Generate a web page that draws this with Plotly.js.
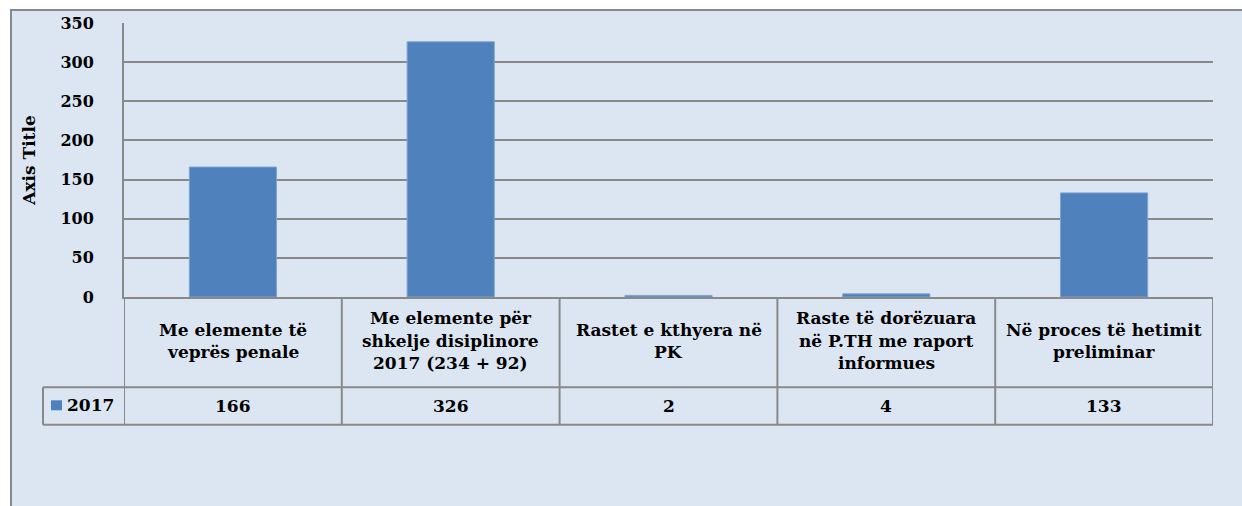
<!DOCTYPE html>
<html>
<head>
<meta charset="utf-8">
<script src="https://cdn.plot.ly/plotly-3.0.1.min.js"></script>
<style>html,body{margin:0;padding:0;background:#fff;}#chart{width:1242px;height:506px;}</style>
</head>
<body>
<div id="chart"></div>
<script>
const categories = [
  "Me elemente të<br>veprës penale",
  "Me elemente për<br>shkelje disiplinore<br>2017 (234 + 92)",
  "Rastet e kthyera në<br>PK",
  "Raste të dorëzuara<br>në P.TH me raport<br>informues",
  "Në proces të hetimit<br>preliminar"
];
const seriesName = "2017";
const values2017 = [166, 326, 2, 4, 133];
const yTicks = [0, 50, 100, 150, 200, 250, 300, 350];

const W = 1242, H = 506;
const L = 124, R = 1213, T = 23, B = 297.5;
const FONT = "'DejaVu Serif', 'Liberation Serif', serif";
const BLUE = "#4F81BD";
const BG = "#DCE6F2";
const LINE = "#898989";

const px = x => (x - L) / (R - L);
const py = y => (B - y) / (B - T);

const n = categories.length;
const rowMid = 388, rowBot = 425.5;
const headMid = 341.5, lineGap = 22.5;

const shapes = [];
shapes.push({type:'rect', xref:'paper', yref:'paper', x0:px(11), x1:px(W+10), y0:py(10), y1:py(H+10),
  fillcolor:BG, line:{color:LINE, width:2}, layer:'below'});
shapes.push({type:'line', xref:'paper', yref:'paper', x0:px(43), x1:px(R), y0:py(rowMid), y1:py(rowMid), line:{color:LINE, width:2}});
shapes.push({type:'line', xref:'paper', yref:'paper', x0:px(43), x1:px(R), y0:py(rowBot), y1:py(rowBot), line:{color:LINE, width:2}});
shapes.push({type:'line', xref:'paper', yref:'paper', x0:px(43), x1:px(43), y0:py(rowMid), y1:py(rowBot), line:{color:LINE, width:2}});
for (let i = 0; i <= n; i++) {
  shapes.push({type:'line', xref:'x', yref:'paper', x0:i - 0.5, x1:i - 0.5, y0:py(B), y1:py(rowBot), line:{color:LINE, width:2}});
}
shapes.push({type:'rect', xref:'paper', yref:'paper', x0:px(51), x1:px(62), y0:py(411), y1:py(401), fillcolor:BLUE, line:{width:0}});

const annotations = [];
categories.forEach((c, i) => {
  const lines = c.split('<br>');
  lines.forEach((ln, k) => {
    const yy = headMid + (k - (lines.length - 1) / 2) * lineGap;
    annotations.push({xref:'x', yref:'paper', x:i, y:py(yy), text:'<b>' + ln + '</b>', showarrow:false,
      font:{family:FONT, size:17, color:'#000'}, xanchor:'center', yanchor:'middle'});
  });
  annotations.push({xref:'x', yref:'paper', x:i, y:py(407), text:'<b>' + values2017[i] + '</b>', showarrow:false,
    font:{family:FONT, size:17, color:'#000'}, xanchor:'center', yanchor:'middle'});
});
annotations.push({xref:'paper', yref:'paper', x:px(65), y:py(406), text:'<b>' + seriesName + '</b>', showarrow:false,
  font:{family:FONT, size:17, color:'#000'}, xanchor:'left', yanchor:'middle'});

const data = [{
  type:'bar', name:seriesName, x:categories.map((c, i) => i), y:values2017,
  marker:{color:BLUE, line:{color:'#7FA3CF', width:1}}, width:0.4, hoverinfo:'y'
}];

const layout = {
  width:W, height:H,
  margin:{l:L, r:W - R, t:T, b:H - B, pad:0},
  paper_bgcolor:'#ffffff', plot_bgcolor:'rgba(0,0,0,0)',
  showlegend:false,
  xaxis:{range:[-0.5, n - 0.5], showticklabels:false, showgrid:false, zeroline:false, showline:true,
    linecolor:LINE, linewidth:2, ticks:'', fixedrange:true},
  yaxis:{range:[0, 350], tickvals:yTicks, ticktext:yTicks.map(String), showgrid:true, gridcolor:LINE, gridwidth:2,
    zeroline:false, showline:true, linecolor:LINE, linewidth:2, ticks:'', ticklabelstandoff:25,
    tickfont:{family:FONT, size:16, color:'#000', weight:'bold'},
    title:{text:'<b>Axis Title</b>', font:{family:FONT, size:17, color:'#000'}, standoff:20}, automargin:true, fixedrange:true},
  shapes:shapes, annotations:annotations
};

Plotly.newPlot('chart', data, layout, {displayModeBar:false, staticPlot:true});
</script>
</body>
</html>
